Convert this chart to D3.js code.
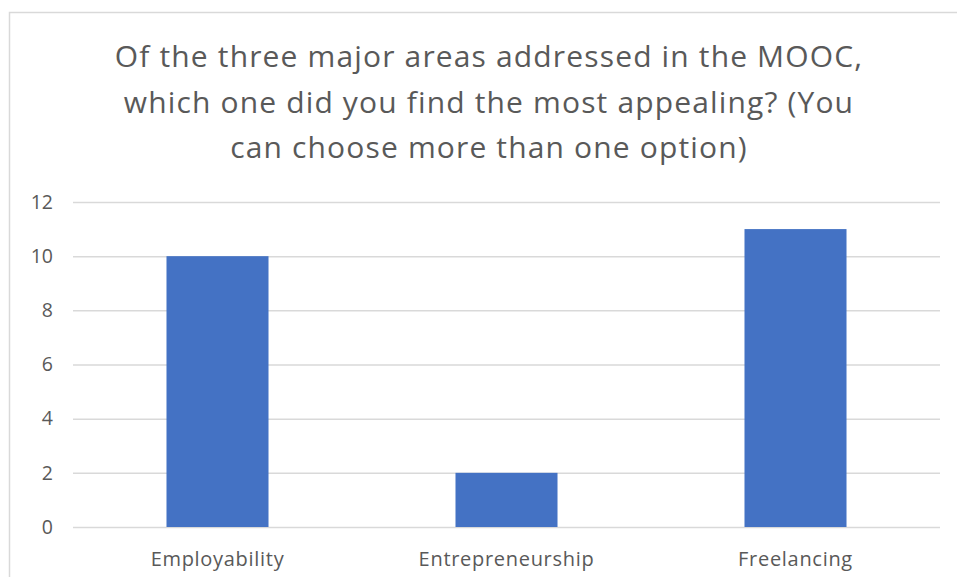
<!DOCTYPE html>
<html>
<head>
<meta charset="utf-8">
<script src="https://cdn.jsdelivr.net/npm/d3@7"></script>
<style>
  body { margin: 0; background: #fff; }
  svg { display: block; }
</style>
</head>
<body>
<svg id="chart" width="957" height="577"></svg>
<script>
var categories = ["Employability", "Entrepreneurship", "Freelancing"];
var counts = [10, 2, 11];
var yTicks = [0, 2, 4, 6, 8, 10, 12];
var titleLines = [
  "Of the three major areas addressed in the MOOC,",
  "which one did you find the most appealing? (You",
  "can choose more than one option)"
];

var svg = d3.select("#chart"),
    margin = {top: 202, right: 17, bottom: 50, left: 73},
    width = svg.attr("width") - margin.left - margin.right,
    height = svg.attr("height") - margin.top - margin.bottom;

// chart frame (runs off the right and bottom edges)
svg.append("rect")
    .attr("x", 9.5)
    .attr("y", 12.5)
    .attr("width", 1000)
    .attr("height", 1000)
    .attr("fill", "#fff")
    .attr("stroke", "#d9d9d9")
    .attr("stroke-width", 1.5);

var title = svg.append("text")
    .attr("x", 489)
    .attr("y", 67)
    .attr("text-anchor", "middle")
    .attr("fill", "#595959")
    .style("font", "30px 'Open Sans', sans-serif")
    .style("letter-spacing", "1.15px");

title.selectAll("tspan")
    .data(titleLines)
  .enter().append("tspan")
    .attr("x", 489)
    .attr("dy", function(d, i) { return i == 0 ? 0 : 45.5; })
    .text(function(d) { return d; });

var g = svg.append("g").attr("transform", "translate(" + margin.left + "," + margin.top + ")");

var x = d3.scaleBand()
    .domain(categories)
    .range([0, width])
    .paddingInner(0.647)
    .paddingOuter(0.3235);

var y = d3.scaleLinear()
    .domain([0, 12])
    .range([height, 0]);

// gridlines
g.append("g")
    .attr("class", "grid")
    .call(d3.axisLeft(y).tickValues(yTicks).tickSize(-width).tickFormat(""))
    .call(function(s) {
      s.select(".domain").remove();
      s.selectAll("line").attr("stroke", "#d9d9d9").attr("stroke-width", 1.5);
    });

// y labels
g.append("g")
    .call(d3.axisLeft(y).tickValues(yTicks).tickSize(0).tickPadding(20))
    .call(function(s) {
      s.select(".domain").remove();
      s.selectAll("text")
        .attr("fill", "#595959")
        .style("font", "19.5px 'Open Sans', sans-serif");
    });

g.selectAll(".bar")
    .data(counts)
  .enter().append("rect")
    .attr("class", "bar")
    .attr("x", function(d, i) { return x(categories[i]); })
    .attr("y", function(d) { return y(d); })
    .attr("width", x.bandwidth())
    .attr("height", function(d) { return height - y(d); })
    .attr("fill", "#4472c4");

// x labels
g.append("g")
    .attr("transform", "translate(0," + height + ")")
    .call(d3.axisBottom(x).tickSize(0).tickPadding(25))
    .call(function(s) {
      s.select(".domain").remove();
      s.selectAll("text")
        .attr("fill", "#595959")
        .style("font", "20px 'Open Sans', sans-serif")
        .style("letter-spacing", "0.7px");
    });
</script>
</body>
</html>
